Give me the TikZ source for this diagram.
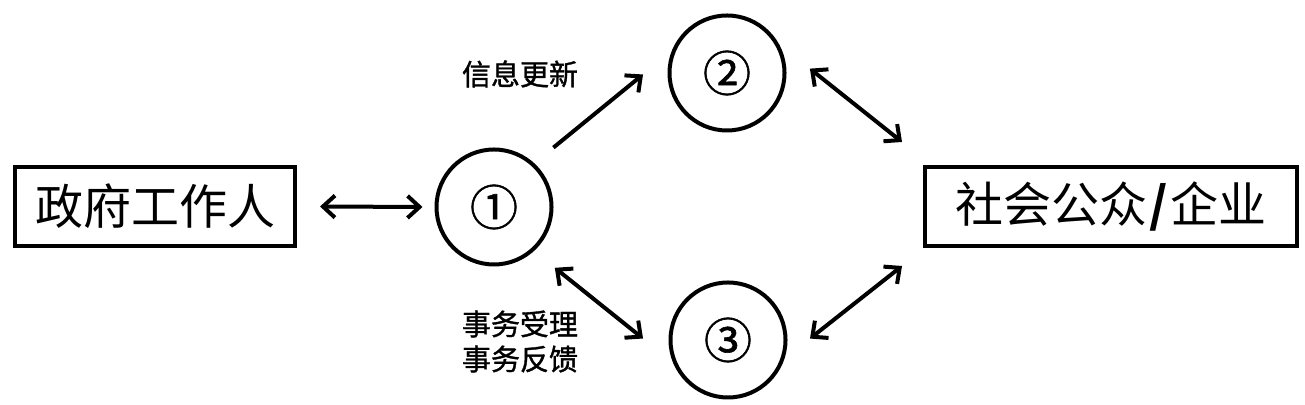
\documentclass[tikz,border=0pt]{standalone}
\usepackage{fontspec}
\newfontfamily\cjk{Noto Sans CJK SC}
\newfontfamily\cjkmid{Noto Sans CJK SC}[FakeBold=1.2]
\usetikzlibrary{arrows.meta}

\begin{document}
\begin{tikzpicture}[>={Straight Barb[length=6pt,width=11pt]},x=0.5pt,y=0.5pt,
    line width=2pt,
    box/.style={draw, rectangle, minimum height=39.5pt, inner sep=0pt,
        font=\cjk\fontsize{24}{28}\selectfont},
    ring/.style={draw, circle, minimum size=57.5pt, inner sep=0pt,
        font=\cjkmid\fontsize{24}{28}\selectfont},
    note/.style={font=\cjkmid\fontsize{14.5}{17.5}\selectfont, align=center}]
            \useasboundingbox (0,0) rectangle (1305,405);

            \node[box, minimum width=140pt] (gov) at (155,198.5) {政府工作人};
            \node[box, minimum width=186pt] (pub) at (1111,198.5)
                {社会公众\kern1pt{\bfseries/}\kern1pt企业};

            \node[ring] (n1) at (494,198) {①};
            \node[ring] (n2) at (727,332) {②};
            \node[ring] (n3) at (728,65) {③};

            \node[note] (upd) at (520,331) {信息更新};
            \node[note] (aff) at (520,63.5) {事务受理\\事务反馈};

            \draw[<->] ([shift={(23,0)}]gov.east) -- ([shift={(-12,0)}]n1.west);
            \draw[->] ([shift={(45:84)}]n1.center) -- ([shift={(181:84)}]n2.center);
            \draw[<->] ([shift={(3:83)}]n2.center) -- ([shift={(-21,23)}]pub.north west);
            \draw[<->] ([shift={(-45:86)}]n1.center) -- ([shift={(179:85)}]n3.center);
            \draw[<->] ([shift={(1:82)}]n3.center) -- ([shift={(-21,-18)}]pub.south west);
        \end{tikzpicture}
\end{document}
